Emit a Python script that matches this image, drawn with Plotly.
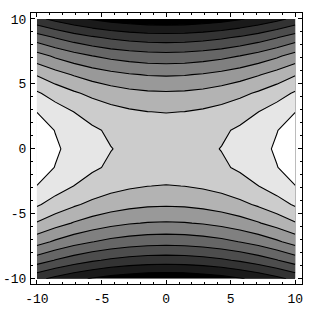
import plotly.graph_objects as go

# sample grid (15 x 15, like Mathematica's default PlotPoints)
x_vals = [-10.0, -8.571, -7.143, -5.714, -4.286, -2.857, -1.429, 0.0,
          1.429, 2.857, 4.286, 5.714, 7.143, 8.571, 10.0]
y_vals = [-10.0, -8.571, -7.143, -5.714, -4.286, -2.857, -1.429, 0.0,
          1.429, 2.857, 4.286, 5.714, 7.143, 8.571, 10.0]

# estimated surface values (rows follow y_vals)
z_rows = [
    [-76.0, -82.4, -87.8, -92.2, -95.6, -98.0, -99.5, -100.0, -99.5, -98.0, -95.6, -92.2, -87.8, -82.4, -76.0],
    [-49.5, -55.9, -61.3, -65.7, -69.1, -71.5, -73.0, -73.5, -73.0, -71.5, -69.1, -65.7, -61.3, -55.9, -49.5],
    [-27.0, -33.4, -38.8, -43.2, -46.6, -49.0, -50.5, -51.0, -50.5, -49.0, -46.6, -43.2, -38.8, -33.4, -27.0],
    [-8.7, -15.1, -20.5, -24.9, -28.3, -30.7, -32.2, -32.7, -32.2, -30.7, -28.3, -24.9, -20.5, -15.1, -8.7],
    [5.6, -0.8, -6.2, -10.6, -14.0, -16.4, -17.9, -18.4, -17.9, -16.4, -14.0, -10.6, -6.2, -0.8, 5.6],
    [15.8, 9.4, 4.0, -0.4, -3.8, -6.2, -7.7, -8.2, -7.7, -6.2, -3.8, -0.4, 4.0, 9.4, 15.8],
    [22.0, 15.6, 10.2, 5.8, 2.4, 0.0, -1.5, -2.0, -1.5, 0.0, 2.4, 5.8, 10.2, 15.6, 22.0],
    [24.0, 17.6, 12.2, 7.8, 4.4, 2.0, 0.5, 0.0, 0.5, 2.0, 4.4, 7.8, 12.2, 17.6, 24.0],
    [22.0, 15.6, 10.2, 5.8, 2.4, 0.0, -1.5, -2.0, -1.5, 0.0, 2.4, 5.8, 10.2, 15.6, 22.0],
    [15.8, 9.4, 4.0, -0.4, -3.8, -6.2, -7.7, -8.2, -7.7, -6.2, -3.8, -0.4, 4.0, 9.4, 15.8],
    [5.6, -0.8, -6.2, -10.6, -14.0, -16.4, -17.9, -18.4, -17.9, -16.4, -14.0, -10.6, -6.2, -0.8, 5.6],
    [-8.7, -15.1, -20.5, -24.9, -28.3, -30.7, -32.2, -32.7, -32.2, -30.7, -28.3, -24.9, -20.5, -15.1, -8.7],
    [-27.0, -33.4, -38.8, -43.2, -46.6, -49.0, -50.5, -51.0, -50.5, -49.0, -46.6, -43.2, -38.8, -33.4, -27.0],
    [-49.5, -55.9, -61.3, -65.7, -69.1, -71.5, -73.0, -73.5, -73.0, -71.5, -69.1, -65.7, -61.3, -55.9, -49.5],
    [-76.0, -82.4, -87.8, -92.2, -95.6, -98.0, -99.5, -100.0, -99.5, -98.0, -95.6, -92.2, -87.8, -82.4, -76.0],
]

# contour levels (10 levels, evenly spaced)
level_start = -91.1
level_end = 16.0
level_step = 11.9

tick_vals = [-10, -5, 0, 5, 10]
tick_text = ["-10", "-5", "0", "5", "10"]

fig = go.Figure(go.Contour(
    x=x_vals, y=y_vals, z=z_rows,
    contours=dict(start=level_start, end=level_end, size=level_step, coloring="fill"),
    colorscale=[[0, "rgb(0,0,0)"], [1, "rgb(255,255,255)"]],
    line=dict(color="black", width=1.1, smoothing=0),
    showscale=False,
    hoverinfo="skip",
))

axis_common = dict(
    showgrid=False, zeroline=False, automargin=False,
    showline=True, linecolor="black", linewidth=1, mirror="ticks",
    ticks="inside", ticklen=4, tickwidth=1, tickcolor="black",
    tickvals=tick_vals, ticktext=tick_text,
    tickfont=dict(family="Liberation Mono, Courier New, monospace", size=13, color="black"),
    minor=dict(ticks="inside", dtick=1, ticklen=2, tickwidth=1, tickcolor="black", showgrid=False),
)

fig.update_layout(
    width=326, height=310,
    margin=dict(l=31, r=24, t=13, b=26),
    paper_bgcolor="white", plot_bgcolor="white",
    xaxis=dict(range=[-10.46, 10.52], ticklabelstandoff=2, **axis_common),
    yaxis=dict(range=[-10.4, 10.46], ticklabelstandoff=1, **axis_common),
)

fig.write_html("out.html")
